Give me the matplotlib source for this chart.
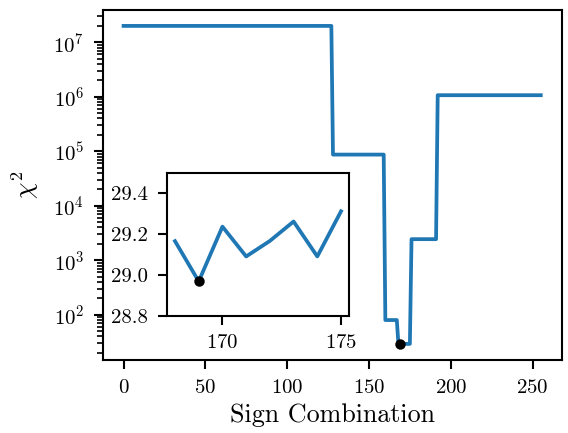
import numpy as np
import matplotlib
matplotlib.use("Agg")
import matplotlib.pyplot as plt

plt.rcParams['font.family'] = 'serif'
plt.rcParams['font.serif'] = ['cmr10']
plt.rcParams['mathtext.fontset'] = 'cm'
plt.rcParams['axes.formatter.use_mathtext'] = True
plt.rcParams['font.size'] = 10
plt.rcParams['axes.linewidth'] = 1.0
plt.rcParams['xtick.major.size'] = 4.4
plt.rcParams['ytick.major.size'] = 4.4
plt.rcParams['xtick.minor.size'] = 2.8
plt.rcParams['ytick.minor.size'] = 2.8
plt.rcParams['xtick.major.width'] = 1.0
plt.rcParams['ytick.major.width'] = 1.0
plt.rcParams['ytick.minor.width'] = 0.8
plt.rcParams['xtick.major.pad'] = 4.5
plt.rcParams['ytick.major.pad'] = 4.5

# Plateau levels of chi^2 across sign combinations (start index, level)
block_starts = [0, 128, 160, 176, 192]
block_ends = [128, 160, 168, 192, 256]
block_levels = [2.0e7, 8.7e4, 80.0, 2.44e3, 1.07e6]

# Detailed values for combinations 168..175 (inset)
inset_x = [168, 169, 170, 171, 172, 173, 174, 175]
inset_y = [29.165, 28.968, 29.236, 29.090, 29.166, 29.261, 29.090, 29.311]

x = np.arange(256)
chi2 = np.empty(256)
for s, e, v in zip(block_starts, block_ends, block_levels):
    chi2[s:e] = v
chi2[inset_x[0]:inset_x[-1] + 1] = inset_y

imin = int(np.argmin(chi2))

fig = plt.figure(figsize=(568 / 150, 433 / 150), dpi=150)
ax = fig.add_axes([0.1808, 0.1686, 0.808, 0.8083])
ax.plot(x, chi2, color='#1f77b4', lw=1.8)
ax.plot(x[imin], chi2[imin], 'o', color='black', ms=4)
ax.set_yscale('log')
ax.set_xlabel('Sign Combination', fontsize=12.5, labelpad=3)
ax.set_ylabel(r'$\chi^2$', fontsize=12.5, labelpad=6)
ax.set_xticks([0, 50, 100, 150, 200, 250])

axin = fig.add_axes([0.2935, 0.2709, 0.3215, 0.3303])
axin.plot(inset_x, inset_y, color='#1f77b4', lw=1.8)
axin.plot(x[imin], chi2[imin], 'o', color='black', ms=4)
axin.set_ylim(28.8, 29.5)
axin.set_yticks([28.8, 29.0, 29.2, 29.4])
axin.set_yticklabels(['28.8', '29.0', '29.2', '29.4'])
axin.set_xticks([170, 175])

fig.savefig('out.png', dpi=150)
